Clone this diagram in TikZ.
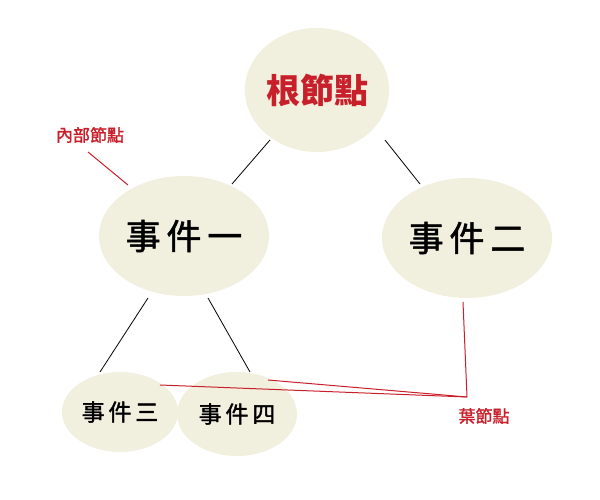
\documentclass[tikz,border=0pt]{standalone}
\usepackage{fontspec}
\setmainfont{Noto Sans CJK TC}
\newfontfamily\medfont{Noto Sans CJK TC}[FakeBold=1.5]
\usetikzlibrary{shapes.geometric}
\definecolor{cream}{HTML}{F1EFDE}
\definecolor{myred}{HTML}{C8202A}
\begin{document}
\begin{tikzpicture}[x=1pt,y=-1pt,
  ev/.style={ellipse,fill=cream,inner sep=0pt},
  link/.style={black,line width=0.8pt},
  red/.style={myred,line width=1pt}]
\useasboundingbox (0,0) rectangle (600,500);
\node[ev,minimum width=144pt,minimum height=124pt] (r) at (317,90) {\fontsize{34}{34}\selectfont\bfseries\color{myred}根節點};
\node[ev,minimum width=170pt,minimum height=120pt] (a) at (184,236) {\fontsize{35}{35}\selectfont\medfont 事\,件\,一};
\node[ev,minimum width=170pt,minimum height=120pt] (b) at (467,238) {\fontsize{35}{35}\selectfont\medfont 事\,件\,二};
\node[ev,minimum width=116pt,minimum height=80pt] (c) at (120,412) {\fontsize{23}{23}\selectfont\medfont 事\,件\,三};
\node[ev,minimum width=120pt,minimum height=84pt] (d) at (237,414) {\fontsize{23}{23}\selectfont\medfont 事\,件\,四};
\coordinate (r1) at (270,140); \coordinate (a1) at (232,184);
\coordinate (r2) at (385,140); \coordinate (b1) at (420,184);
\coordinate (a2) at (148,298); \coordinate (c1) at (100,372);
\coordinate (a3) at (208,298); \coordinate (d1) at (250,372);
\draw[link] (r1) -- (a1);
\draw[link] (r2) -- (b1);
\draw[link] (a2) -- (c1);
\draw[link] (a3) -- (d1);
\node[text=myred,font=\fontsize{17}{17}\selectfont\medfont] (ni) at (90,135) {內部節點};
\coordinate (ni1) at (88,152); \coordinate (ni2) at (128,185);
\draw[red] (ni1) -- (ni2);
\node[text=myred,font=\fontsize{17}{17}\selectfont\medfont] (leaf) at (484,416) {葉節點};
\coordinate (lb) at (463,302); \coordinate (lj) at (467,397);
\coordinate (lc) at (160,385); \coordinate (ld) at (268,380);
\draw[red] (lb) -- (lj);
\draw[red] (lc) -- (lj);
\draw[red] (ld) -- (lj);
\end{tikzpicture}
\end{document}
